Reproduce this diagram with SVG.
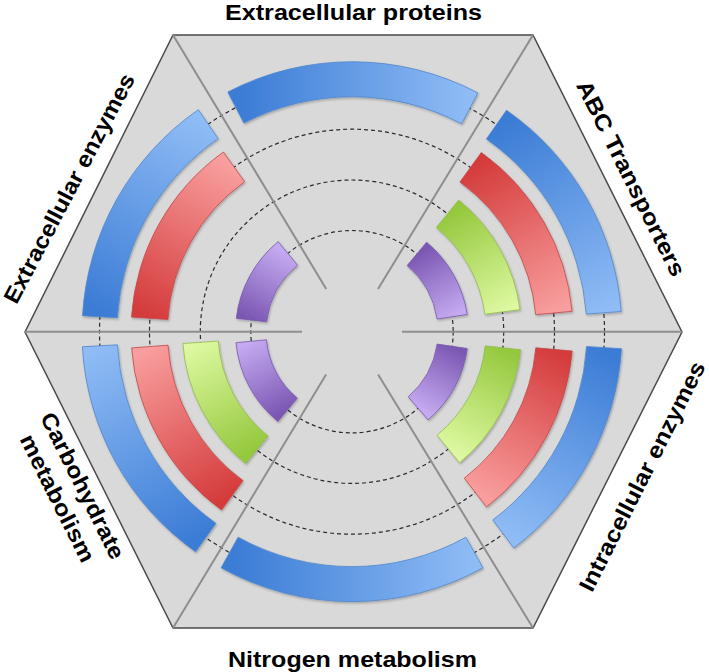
<svg xmlns="http://www.w3.org/2000/svg" width="709" height="672" viewBox="0 0 709 672">
<style>
.lbl{font-family:"Liberation Sans",Arial,sans-serif;font-weight:bold;font-size:22.5px;fill:#000;text-anchor:middle}
.div{stroke:#8e8e8e;stroke-width:2;fill:none}
.dash{fill:none;stroke:#2b2b2b;stroke-width:1.2;stroke-dasharray:4 3}
.b{stroke:#4f86cc;stroke-width:0.8}
.r{stroke:#c34646;stroke-width:0.8}
.g{stroke:#8fbb48;stroke-width:0.8}
.p{stroke:#7658ab;stroke-width:0.8}
.bar{filter:url(#sh)}
</style>
<defs>
<filter id="sh" x="-10%" y="-10%" width="130%" height="130%"><feDropShadow dx="1" dy="1.5" stdDeviation="1.3" flood-color="#000" flood-opacity="0.25"/></filter>
<linearGradient id="gTop" gradientUnits="userSpaceOnUse" x1="235.8" y1="107.5" x2="469.8" y2="108.3"><stop offset="0" stop-color="#3a7bd5"/><stop offset="1" stop-color="#8fbcf5"/></linearGradient>
<linearGradient id="gULb" gradientUnits="userSpaceOnUse" x1="100" y1="316.7" x2="208.3" y2="124.1"><stop offset="0" stop-color="#3a7bd5"/><stop offset="1" stop-color="#8fbcf5"/></linearGradient>
<linearGradient id="gULr" gradientUnits="userSpaceOnUse" x1="149.7" y1="318.3" x2="234" y2="166.8"><stop offset="0" stop-color="#d43b3b"/><stop offset="1" stop-color="#f99e9e"/></linearGradient>
<linearGradient id="gULp" gradientUnits="userSpaceOnUse" x1="251.4" y1="320.1" x2="287.9" y2="253.4"><stop offset="0" stop-color="#7b57b3"/><stop offset="1" stop-color="#c4aaf0"/></linearGradient>
<linearGradient id="gURb" gradientUnits="userSpaceOnUse" x1="496.5" y1="124.6" x2="603.8" y2="312.8"><stop offset="0" stop-color="#3a7bd5"/><stop offset="1" stop-color="#8fbcf5"/></linearGradient>
<linearGradient id="gURr" gradientUnits="userSpaceOnUse" x1="470.6" y1="167.3" x2="553.9" y2="313"><stop offset="0" stop-color="#d43b3b"/><stop offset="1" stop-color="#f99e9e"/></linearGradient>
<linearGradient id="gURg" gradientUnits="userSpaceOnUse" x1="447.5" y1="213.8" x2="502.4" y2="311.9"><stop offset="0" stop-color="#94c83d"/><stop offset="1" stop-color="#ddf8a0"/></linearGradient>
<linearGradient id="gURp" gradientUnits="userSpaceOnUse" x1="416.8" y1="253.9" x2="452.1" y2="316.7"><stop offset="0" stop-color="#7b57b3"/><stop offset="1" stop-color="#c4aaf0"/></linearGradient>
<linearGradient id="gLRb" gradientUnits="userSpaceOnUse" x1="604" y1="347.6" x2="503.3" y2="533.9"><stop offset="0" stop-color="#3a7bd5"/><stop offset="1" stop-color="#8fbcf5"/></linearGradient>
<linearGradient id="gLRr" gradientUnits="userSpaceOnUse" x1="554" y1="349.4" x2="475.4" y2="492.6"><stop offset="0" stop-color="#d43b3b"/><stop offset="1" stop-color="#f99e9e"/></linearGradient>
<linearGradient id="gLRg" gradientUnits="userSpaceOnUse" x1="502.9" y1="347.8" x2="448.3" y2="449"><stop offset="0" stop-color="#94c83d"/><stop offset="1" stop-color="#ddf8a0"/></linearGradient>
<linearGradient id="gLRp" gradientUnits="userSpaceOnUse" x1="452.2" y1="346.3" x2="418.2" y2="408.3"><stop offset="0" stop-color="#7b57b3"/><stop offset="1" stop-color="#c4aaf0"/></linearGradient>
<linearGradient id="gBot" gradientUnits="userSpaceOnUse" x1="229.6" y1="552.5" x2="474.4" y2="552.5"><stop offset="0" stop-color="#3a7bd5"/><stop offset="1" stop-color="#8fbcf5"/></linearGradient>
<linearGradient id="gLLb" gradientUnits="userSpaceOnUse" x1="205.7" y1="537.5" x2="99.9" y2="345.8"><stop offset="0" stop-color="#3a7bd5"/><stop offset="1" stop-color="#8fbcf5"/></linearGradient>
<linearGradient id="gLLr" gradientUnits="userSpaceOnUse" x1="232.3" y1="495.3" x2="149.8" y2="346.5"><stop offset="0" stop-color="#d43b3b"/><stop offset="1" stop-color="#f99e9e"/></linearGradient>
<linearGradient id="gLLg" gradientUnits="userSpaceOnUse" x1="256.7" y1="449.8" x2="200.6" y2="342.3"><stop offset="0" stop-color="#94c83d"/><stop offset="1" stop-color="#ddf8a0"/></linearGradient>
<linearGradient id="gLLp" gradientUnits="userSpaceOnUse" x1="287.6" y1="409.8" x2="251.2" y2="341.2"><stop offset="0" stop-color="#7b57b3"/><stop offset="1" stop-color="#c4aaf0"/></linearGradient>
</defs>

<g id="background">
<polygon points="173,35 533,35 682,332 533,628 173,628 25,332" fill="#d9d9d9" stroke="#4a4a4a" stroke-width="1.5"/>
</g>

<g id="connectors">
<circle class="dash" cx="352" cy="331.7" r="252.5"/>
<circle class="dash" cx="352" cy="331.7" r="202.5"/>
<circle class="dash" cx="352" cy="331.7" r="151.7"/>
<circle class="dash" cx="352" cy="331.7" r="101.2"/>
</g>

<g id="dividers">
<line class="div" x1="25" y1="331.7" x2="302" y2="331.7"/>
<line class="div" x1="402" y1="331.7" x2="682" y2="331.7"/>
<line class="div" x1="173" y1="35" x2="326.2" y2="288.9"/>
<line class="div" x1="533" y1="35" x2="378" y2="289"/>
<line class="div" x1="173" y1="628" x2="326.1" y2="374.5"/>
<line class="div" x1="533" y1="628" x2="378.1" y2="374.4"/>
</g>

<g id="sector-extracellular-proteins">
<path id="ep-blue" class="bar b" fill="url(#gTop)" d="M477.9,92.9 A270,270 0 0 0 227.8,92 L243.9,123.1 A235,235 0 0 1 461.6,123.8 Z"/>
</g>

<g id="sector-extracellular-enzymes">
<path id="ee-blue" class="bar b" fill="url(#gULb)" d="M198.3,109.7 A270,270 0 0 0 82.5,315.7 L117.4,317.8 A235,235 0 0 1 218.2,138.5 Z"/>
<path id="ee-red" class="bar r" fill="url(#gULr)" d="M223.4,152 A221,221 0 0 0 131.5,317.1 L167.9,319.5 A184.5,184.5 0 0 1 244.6,181.7 Z"/>
<path id="ee-purple" class="bar p" fill="url(#gULp)" d="M278.2,241.6 A116.5,116.5 0 0 0 236.3,318.3 L266.6,321.8 A86,86 0 0 1 297.5,265.2 Z"/>
</g>

<g id="sector-abc-transporters">
<path id="abc-blue" class="bar b" fill="url(#gURb)" d="M621.2,311.5 A270,270 0 0 0 506.5,110.3 L486.4,139 A235,235 0 0 1 586.3,314.1 Z"/>
<path id="abc-red" class="bar r" fill="url(#gURr)" d="M572.1,311.3 A221,221 0 0 0 481.3,152.5 L459.9,182.1 A184.5,184.5 0 0 1 535.7,314.7 Z"/>
<path id="abc-green" class="bar g" fill="url(#gURg)" d="M520,309.6 A169.5,169.5 0 0 0 458.7,200 L436.3,227.6 A134,134 0 0 1 484.9,314.2 Z"/>
<path id="abc-purple" class="bar p" fill="url(#gURp)" d="M467.2,314.5 A116.5,116.5 0 0 0 426.6,242.2 L407.1,265.6 A86,86 0 0 1 437.1,319 Z"/>
</g>

<g id="sector-intracellular-enzymes">
<path id="ie-blue" class="bar b" fill="url(#gLRb)" d="M513.7,547.9 A270,270 0 0 0 621.5,348.7 L586.5,346.5 A235,235 0 0 1 492.8,519.9 Z"/>
<path id="ie-red" class="bar r" fill="url(#gLRr)" d="M486.5,507 A221,221 0 0 0 572.2,351 L535.8,347.8 A184.5,184.5 0 0 1 464.3,478.1 Z"/>
<path id="ie-green" class="bar g" fill="url(#gLRg)" d="M459.6,462.7 A169.5,169.5 0 0 0 520.5,349.7 L485.2,345.9 A134,134 0 0 1 437.1,435.2 Z"/>
<path id="ie-purple" class="bar p" fill="url(#gLRp)" d="M428.1,419.9 A116.5,116.5 0 0 0 467.3,348.5 L437.1,344.1 A86,86 0 0 1 408.2,396.8 Z"/>
</g>

<g id="sector-nitrogen-metabolism">
<path id="nm-blue" class="bar b" fill="url(#gBot)" d="M221.1,567.8 A270,270 0 0 0 482.9,567.8 L465.9,537.2 A235,235 0 0 1 238.1,537.2 Z"/>
</g>

<g id="sector-carbohydrate-metabolism">
<path id="cm-blue" class="bar b" fill="url(#gLLb)" d="M82.4,346.8 A270,270 0 0 0 195.6,551.8 L215.9,523.3 A235,235 0 0 1 117.4,344.8 Z"/>
<path id="cm-red" class="bar r" fill="url(#gLLr)" d="M131.6,347.9 A221,221 0 0 0 221.5,510.1 L243,480.6 A184.5,184.5 0 0 1 168,345.2 Z"/>
<path id="cm-green" class="bar g" fill="url(#gLLg)" d="M182.9,343.5 A169.5,169.5 0 0 0 245.6,463.6 L267.9,436 A134,134 0 0 1 218.3,341.1 Z"/>
<path id="cm-purple" class="bar p" fill="url(#gLLp)" d="M236,342.7 A116.5,116.5 0 0 0 277.9,421.6 L297.3,398.1 A86,86 0 0 1 266.4,339.8 Z"/>
</g>

<g id="label-extracellular-proteins"><text class="lbl" x="353.5" y="19.5" textLength="257" lengthAdjust="spacingAndGlyphs">Extracellular proteins</text></g>
<g id="label-nitrogen-metabolism"><text class="lbl" x="352.5" y="666.5" textLength="249" lengthAdjust="spacingAndGlyphs">Nitrogen metabolism</text></g>
<g id="label-extracellular-enzymes"><text class="lbl" transform="translate(76,192) rotate(-62.3)" x="0" y="0" textLength="256" lengthAdjust="spacingAndGlyphs">Extracellular enzymes</text></g>
<g id="label-abc-transporters"><text class="lbl" transform="translate(624.1,181.8) rotate(63.4)" x="0" y="0" textLength="216" lengthAdjust="spacingAndGlyphs">ABC Transporters</text></g>
<g id="label-intracellular-enzymes"><text class="lbl" transform="translate(649,479.9) rotate(-63.3)" x="0" y="0" textLength="254" lengthAdjust="spacingAndGlyphs">Intracellular enzymes</text></g>
<g id="label-carbohydrate-metabolism">
<text class="lbl" transform="translate(75.7,489.2) rotate(63.4)" x="0" y="0" textLength="161" lengthAdjust="spacingAndGlyphs">Carbohydrate</text>
<text class="lbl" transform="translate(50.6,501.7) rotate(63.4)" x="0" y="0" textLength="140" lengthAdjust="spacingAndGlyphs">metabolism</text>
</g>
</svg>
